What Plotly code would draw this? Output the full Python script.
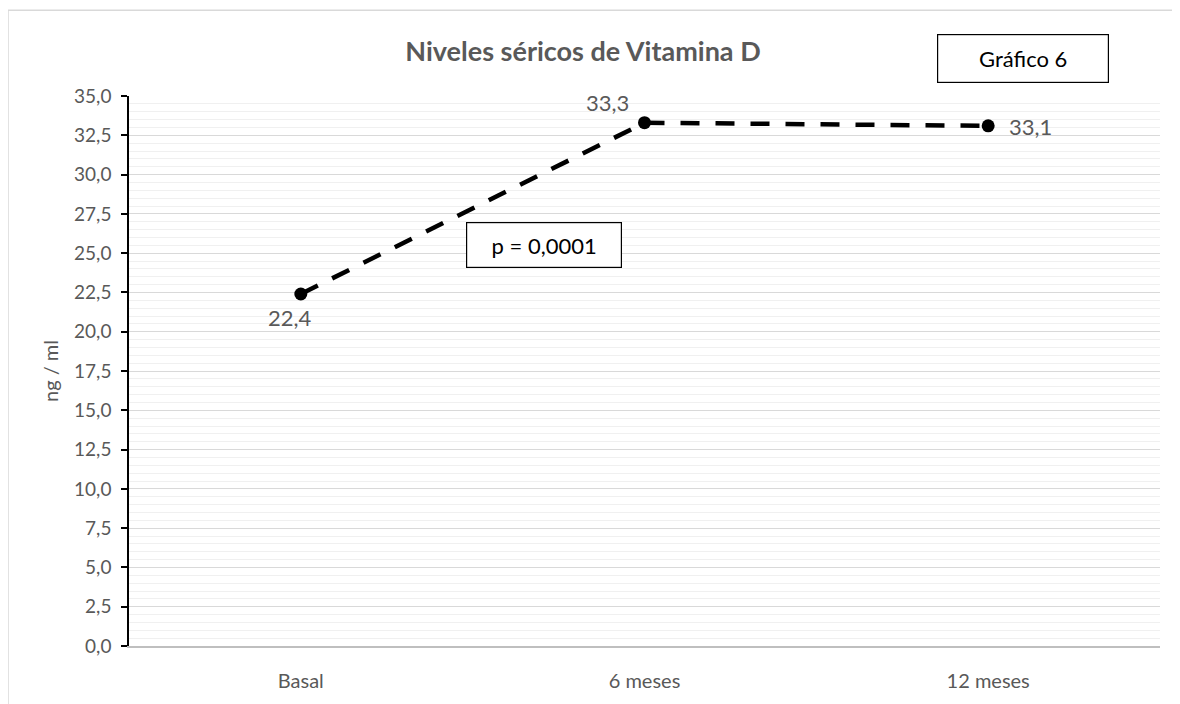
import plotly.graph_objects as go

categories = ["Basal", "6 meses", "12 meses"]
values = [22.4, 33.3, 33.1]
labels = ["22,4", "33,3", "33,1"]

FONT = "Lato, 'Open Sans', sans-serif"
GRAY = "#595959"

W, H = 1172, 696
OFF = 8  # page body offset

# label offsets (px) relative to each point
label_dx = [-11, -37, 42]
label_dy = [-23, 20, -1]

fig = go.Figure()
fig.add_trace(go.Scatter(
    x=categories, y=values,
    mode="lines+markers",
    line=dict(color="black", width=4.5, dash="19px,16px"),
    marker=dict(color="black", size=13),
    cliponaxis=False, showlegend=False,
))

annotations = [
    dict(x=c, y=v, xref="x", yref="y", text=t, showarrow=False,
         xshift=dx, yshift=dy, font=dict(family=FONT, size=22, color=GRAY))
    for c, v, t, dx, dy in zip(categories, values, labels, label_dx, label_dy)
]
annotations += [
    dict(text="p = 0,0001", xref="paper", yref="paper",
         x=(544 - 129) / 1031, y=(648 - 246) / 552, xanchor="center", yanchor="middle",
         showarrow=False, width=152, height=42, bordercolor="black", borderwidth=1.2,
         bgcolor="white", font=dict(family=FONT, size=22, color="black")),
    dict(text="Gráfico 6", xref="paper", yref="paper",
         x=(1023 - 129) / 1031, y=(648 - 58.5) / 552, xanchor="center", yanchor="middle",
         showarrow=False, width=168, height=45, bordercolor="black", borderwidth=1.2,
         bgcolor="white", font=dict(family=FONT, size=22, color="black")),
]

fig.update_layout(
    width=W, height=H,
    margin=dict(l=121, r=20, t=88, b=56),
    paper_bgcolor="white", plot_bgcolor="white",
    separators=",.",
    font=dict(family=FONT, color=GRAY, size=18),
    title=dict(text="<b>Niveles séricos de Vitamina D</b>", x=(583 - OFF) / W, xanchor="center",
               y=1 - (52 - OFF) / H, yanchor="middle",
               font=dict(family=FONT, size=27, color=GRAY)),
    xaxis=dict(type="category", range=[-0.5, 2.5], showgrid=False,
               showline=True, linecolor="#bfbfbf", linewidth=1.5,
               ticks="", tickfont=dict(family=FONT, size=20, color=GRAY),
               ticklabelstandoff=16, zeroline=False),
    yaxis=dict(range=[0, 35], dtick=2.5, tick0=0, tickformat=".1f",
               showgrid=True, gridcolor="#d9d9d9", gridwidth=1,
               minor=dict(dtick=0.5, showgrid=True, gridcolor="#f0f0f0", gridwidth=1),
               showline=True, linecolor="black", linewidth=1.5,
               ticks="outside", ticklen=6, tickcolor="black", tickwidth=1.5,
               tickfont=dict(family=FONT, size=19, color=GRAY),
               ticklabelstandoff=6,
               zeroline=False,
               title=dict(text="ng / ml", font=dict(family=FONT, size=20, color=GRAY), standoff=10)),
    shapes=[dict(type="rect", xref="paper", yref="paper",
                 x0=(8 - 129) / 1031, x1=(1200 - 129) / 1031,
                 y0=(648 - 720) / 552, y1=(648 - 10) / 552,
                 line=dict(color="#d9d9d9", width=1.5), layer="below")],
    annotations=annotations,
)

fig.write_html("out.html")
